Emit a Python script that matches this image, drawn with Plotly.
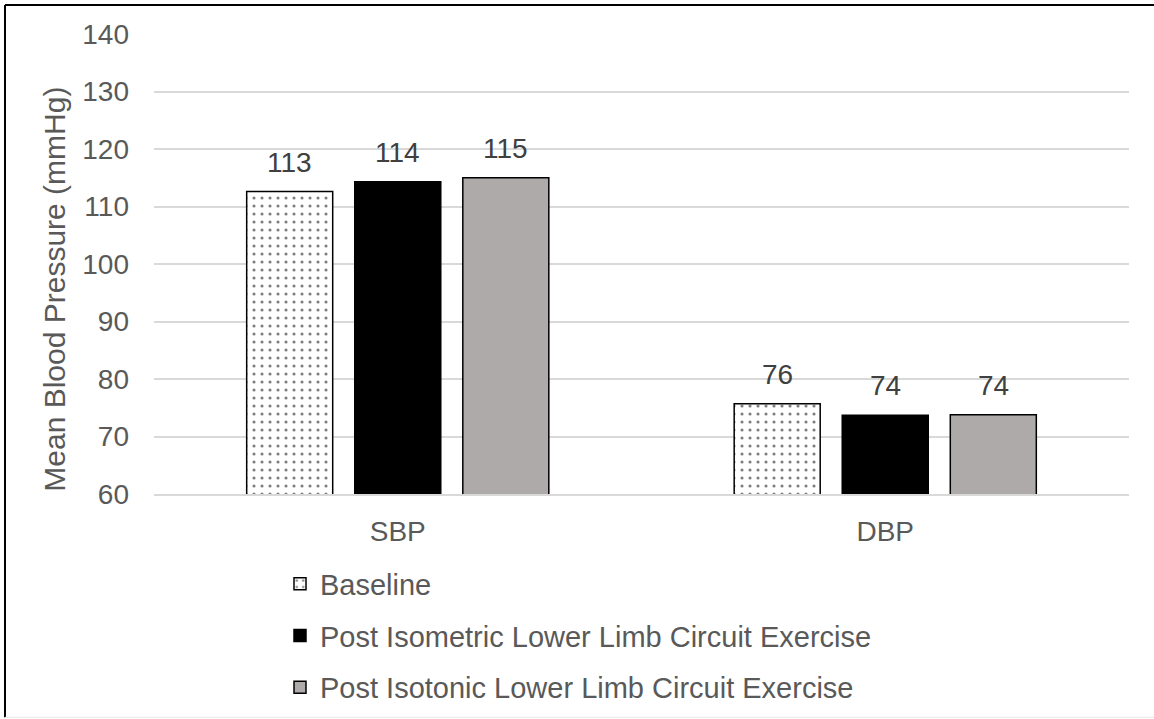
import plotly.graph_objects as go

# Mean blood pressure by condition (mmHg)
categories = ["SBP", "DBP"]
series_names = [
    "Baseline",
    "Post Isometric Lower Limb Circuit Exercise",
    "Post Isotonic Lower Limb Circuit Exercise",
]
baseline = [112.6, 75.7]
post_isometric = [114.3, 73.7]
post_isotonic = [115.0, 73.8]
y_ticks = [60, 70, 80, 90, 100, 110, 120, 130, 140]
y_title = "Mean Blood Pressure (mmHg)"

series_values = [baseline, post_isometric, post_isotonic]

W, H = 1154, 719
M_L, M_R, M_T, M_B = 154, 25, 34, 224.5
PLOT_W = W - M_L - M_R
PLOT_H = H - M_T - M_B

FONT = "Arial, Liberation Sans, sans-serif"
TEXT_GREY = "#595959"
GRID = "#d9d9d9"

BARGAP = 0.335
GROUPGAP = 0.204


def px_x(px):
    return (px - M_L) / PLOT_W


def px_y(py):
    return (H - M_B - py) / PLOT_H


fig = go.Figure()

styles = [
    dict(color="white", line=dict(color="black", width=1.5),
         pattern=dict(shape=".", fgcolor="black", bgcolor="white", size=8, solidity=0.12)),
    dict(color="black", line=dict(color="black", width=1.5)),
    dict(color="#aeaaaa", line=dict(color="black", width=1.5)),
]

for i, (name, vals) in enumerate(zip(series_names, series_values)):
    fig.add_trace(go.Bar(
        x=categories, y=vals, name=name, marker=styles[i],
        legendgroup=f"g{i}", hoverinfo="skip",
    ))

# value labels above each bar
cat_px = PLOT_W / len(categories)
slot_px = cat_px * (1 - BARGAP) / len(series_names)
for i, vals in enumerate(series_values):
    for cat, v in zip(categories, vals):
        fig.add_annotation(
            x=cat, y=v, text=f"{v:.0f}", showarrow=False,
            xshift=(i - 1) * slot_px, yanchor="bottom", yshift=12,
            font=dict(family=FONT, size=28, color="#404040"),
        )

# y-axis title
fig.add_annotation(
    xref="paper", yref="paper", x=px_x(55), y=px_y(290),
    text=y_title, textangle=-90, showarrow=False,
    xanchor="center", yanchor="middle",
    font=dict(family=FONT, size=30, color=TEXT_GREY),
)

# outer chart border
fig.add_shape(type="line", xref="paper", yref="paper",
              x0=px_x(5), x1=px_x(W + 5), y0=px_y(5), y1=px_y(5),
              line=dict(color="black", width=2))
fig.add_shape(type="line", xref="paper", yref="paper",
              x0=px_x(5), x1=px_x(5), y0=px_y(5), y1=px_y(718),
              line=dict(color="black", width=2))
fig.add_shape(type="line", xref="paper", yref="paper",
              x0=px_x(5), x1=px_x(W), y0=px_y(718), y1=px_y(718),
              line=dict(color="#e6e6e6", width=1))

fig.update_layout(
    width=W, height=H,
    margin=dict(l=M_L, r=M_R, t=M_T, b=M_B, autoexpand=False),
    paper_bgcolor="white", plot_bgcolor="white",
    barmode="group", bargap=BARGAP, bargroupgap=GROUPGAP,
    font=dict(family=FONT, size=28, color=TEXT_GREY),
    showlegend=True,
    legend=dict(
        orientation="v", x=px_x(280), xanchor="left",
        y=px_y(559), yanchor="top",
        font=dict(family=FONT, size=29, color=TEXT_GREY),
        tracegroupgap=11, traceorder="grouped",
        bgcolor="rgba(0,0,0,0)",
    ),
    xaxis=dict(
        type="category", showgrid=False, showline=True, linecolor=GRID, linewidth=1.5,
        ticks="", ticklabelstandoff=12,
        tickfont=dict(family=FONT, size=28, color=TEXT_GREY),
        automargin=False,
    ),
    yaxis=dict(
        range=[60, 140], tickvals=y_ticks, showgrid=True, gridcolor=GRID, gridwidth=1.5,
        zeroline=False, showline=False, ticks="", ticklabelstandoff=24,
        tickfont=dict(family=FONT, size=28, color=TEXT_GREY),
        automargin=False,
    ),
)

fig.write_html("out.html")
